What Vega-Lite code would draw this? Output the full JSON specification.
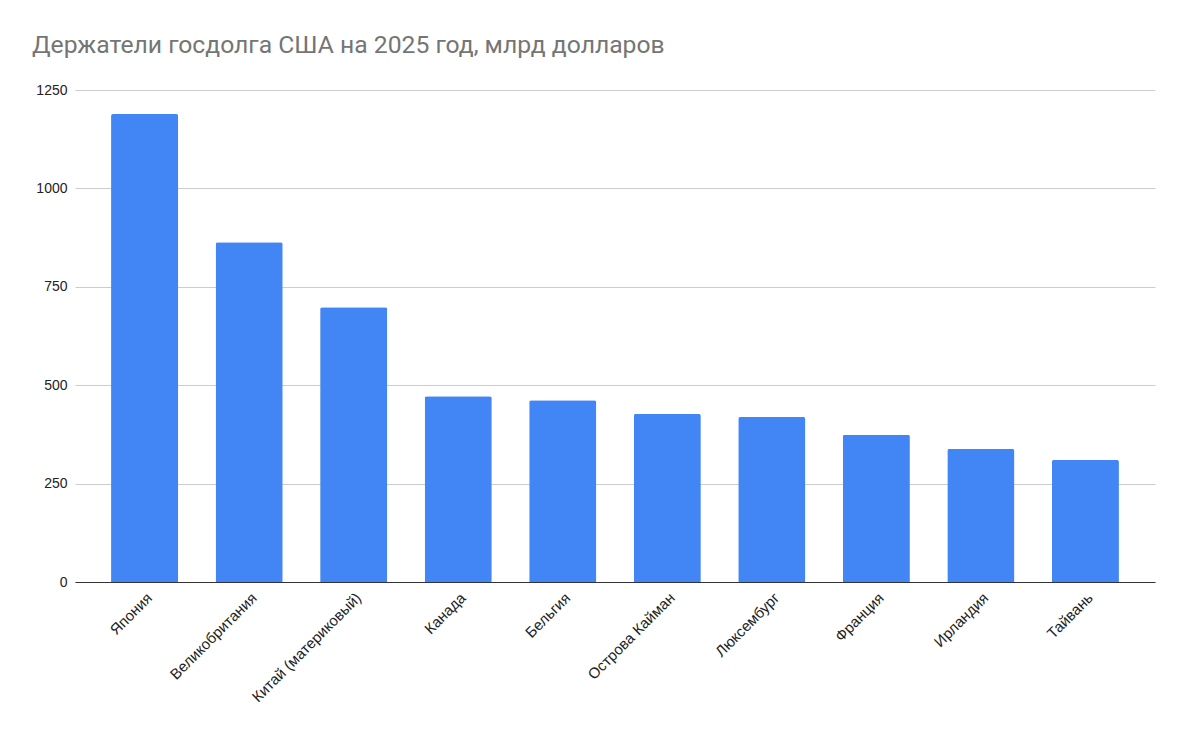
{
  "$schema": "https://vega.github.io/schema/vega-lite/v6.json",
  "autosize": {"type": "none"},
  "padding": {"left": 75, "top": 90, "right": 31, "bottom": 147},
  "width": 1080,
  "height": 492,
  "background": "white",
  "title": {
    "text": "Держатели госдолга США на 2025 год, млрд долларов",
    "anchor": "start",
    "frame": "group",
    "dx": -43,
    "offset": 5,
    "baseline": "alphabetic",
    "font": "Roboto",
    "fontSize": 24.7,
    "fontWeight": "normal",
    "color": "#757575"
  },
  "data": {
    "values": [
      {"country": "Япония", "value": 1189},
      {"country": "Великобритания", "value": 863},
      {"country": "Китай (материковый)", "value": 698},
      {"country": "Канада", "value": 472},
      {"country": "Бельгия", "value": 462},
      {"country": "Острова Кайман", "value": 427},
      {"country": "Люксембург", "value": 419},
      {"country": "Франция", "value": 374},
      {"country": "Ирландия", "value": 338},
      {"country": "Тайвань", "value": 310}
    ]
  },
  "mark": {"type": "bar", "color": "#4285F4", "cornerRadiusTopLeft": 2, "cornerRadiusTopRight": 2},
  "encoding": {
    "x": {
      "field": "country",
      "type": "nominal",
      "sort": null,
      "scale": {"paddingInner": 0.358, "paddingOuter": 0.345},
      "axis": {
        "title": null,
        "labelAngle": -45,
        "labelAlign": "right",
        "labelBaseline": "top",
        "labelPadding": 8,
        "labelFont": "Liberation Sans",
        "labelFontSize": 15,
        "labelColor": "#222222",
        "labelOverlap": false,
        "ticks": false,
        "domainColor": "#333333",
        "domainWidth": 1,
        "grid": false
      }
    },
    "y": {
      "field": "value",
      "type": "quantitative",
      "scale": {"domain": [0, 1250]},
      "axis": {
        "title": null,
        "values": [0, 250, 500, 750, 1000, 1250],
        "format": "d",
        "labelFont": "Liberation Sans",
        "labelFontSize": 14,
        "labelColor": "#222222",
        "labelPadding": 8,
        "ticks": false,
        "domain": false,
        "gridColor": "#cccccc",
        "gridWidth": 1
      }
    }
  },
  "config": {"view": {"stroke": null}}
}
